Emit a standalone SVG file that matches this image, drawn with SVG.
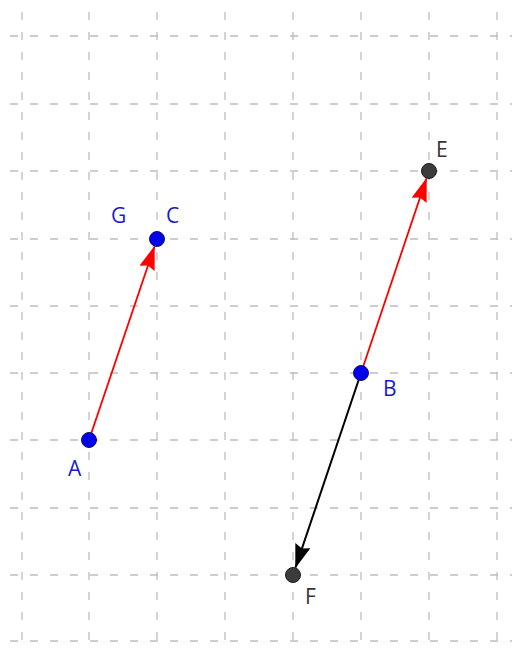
<svg xmlns="http://www.w3.org/2000/svg" width="515" height="648" viewBox="0 0 515 648">
<style>
.grid line{stroke:#bdbdbd;stroke-width:1.3;stroke-dasharray:8,12}
.lbl{font-family:"Open Sans","DejaVu Sans",sans-serif;font-size:21px}
.blue{fill:#1a1acc}
.dark{fill:#333333}
.pb{fill:#0000ee;stroke:#111166;stroke-width:1}
.pd{fill:#3c3c3c;stroke:#1a1a1a;stroke-width:1}
</style>
<defs>
<marker id="ar" viewBox="0 0 24 16" refX="23" refY="8" markerWidth="24" markerHeight="16" markerUnits="userSpaceOnUse" orient="auto">
<path d="M0,0 L24,8 L0,16 L3,8 Z" fill="#ff0000"/>
</marker>
<marker id="ab" viewBox="0 0 24 16" refX="23" refY="8" markerWidth="24" markerHeight="16" markerUnits="userSpaceOnUse" orient="auto">
<path d="M0,0 L24,8 L0,16 L3,8 Z" fill="#000000"/>
</marker>
</defs>
<rect width="515" height="648" fill="#ffffff"/>
<g class="grid">
<line x1="22" y1="12" x2="22" y2="648"/>
<line x1="89" y1="12" x2="89" y2="648"/>
<line x1="157" y1="12" x2="157" y2="648"/>
<line x1="225" y1="12" x2="225" y2="648"/>
<line x1="293" y1="12" x2="293" y2="648"/>
<line x1="361" y1="12" x2="361" y2="648"/>
<line x1="429" y1="12" x2="429" y2="648"/>
<line x1="497" y1="12" x2="497" y2="648"/>
<line x1="10" y1="36" x2="512" y2="36"/>
<line x1="10" y1="104" x2="512" y2="104"/>
<line x1="10" y1="171" x2="512" y2="171"/>
<line x1="10" y1="239" x2="512" y2="239"/>
<line x1="10" y1="306" x2="512" y2="306"/>
<line x1="10" y1="373" x2="512" y2="373"/>
<line x1="10" y1="440" x2="512" y2="440"/>
<line x1="10" y1="508" x2="512" y2="508"/>
<line x1="10" y1="575" x2="512" y2="575"/>
<line x1="10" y1="641" x2="512" y2="641"/>
</g>
<g id="connectors">
<line x1="89" y1="440" x2="154.4" y2="246.6" stroke="#ff0000" stroke-width="1.8" marker-end="url(#ar)"/>
<line x1="361" y1="373" x2="426.4" y2="178.6" stroke="#ff0000" stroke-width="1.8" marker-end="url(#ar)"/>
<line x1="361" y1="373" x2="295.6" y2="567.4" stroke="#000000" stroke-width="2" marker-end="url(#ab)"/>
</g>
<g id="A"><circle class="pb" cx="89" cy="440" r="7.5"/><text class="lbl blue" x="68" y="476">A</text></g>
<g id="C"><circle class="pb" cx="157" cy="239" r="7.5"/><text class="lbl blue" x="166" y="223">C</text></g>
<g id="G"><text class="lbl blue" x="111" y="223">G</text></g>
<g id="B"><circle class="pb" cx="361" cy="373" r="7.5"/><text class="lbl blue" x="383" y="396">B</text></g>
<g id="E"><circle class="pd" cx="429" cy="171" r="7.5"/><text class="lbl dark" x="436" y="157">E</text></g>
<g id="F"><circle class="pd" cx="293" cy="575" r="7.5"/><text class="lbl dark" x="305" y="604">F</text></g>
</svg>
